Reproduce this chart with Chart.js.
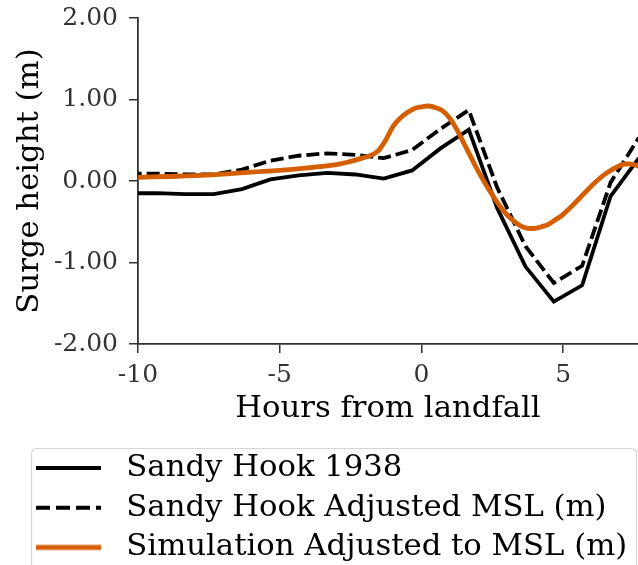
<!DOCTYPE html>
<html>
<head>
<meta charset="utf-8">
<script src="https://cdn.jsdelivr.net/npm/chart.js@4/dist/chart.umd.min.js"></script>
<style>
  html, body { margin: 0; padding: 0; background: #fff; }
  #wrap { width: 638px; height: 565px; }
</style>
</head>
<body>
<div id="wrap"><canvas id="c" width="638" height="565"></canvas></div>
<script>
// Tide gauge readings (hours relative to landfall)
const gaugeHours = [-10.33, -9.33, -8.33, -7.33, -6.33, -5.33, -4.33, -3.33, -2.33, -1.33,
                    -0.33, 0.67, 1.67, 2.67, 3.67, 4.67, 5.67, 6.67, 7.67];
const sandyHook1938 = [-0.15, -0.15, -0.16, -0.16, -0.10, 0.02, 0.07, 0.10, 0.08, 0.03,
                       0.13, 0.40, 0.63, -0.33, -1.05, -1.48, -1.28, -0.19, 0.28];
const sandyHookAdjusted = [0.09, 0.09, 0.08, 0.08, 0.14, 0.25, 0.31, 0.34, 0.32, 0.28,
                           0.38, 0.64, 0.87, -0.08, -0.80, -1.25, -1.04, -0.02, 0.53];

// Model output
const simHours = [-10.5, -10, -9, -8, -7, -6, -5, -4, -3.5, -3, -2.5, -2, -1.75, -1.5, -1.25, -1,
                  -0.75, -0.5, -0.25, 0, 0.25, 0.5, 0.75, 1, 1.25, 1.5, 1.75, 2, 2.25, 2.5,
                  2.75, 3, 3.25, 3.5, 3.75, 4, 4.25, 4.5, 4.75, 5, 5.5, 6, 6.5, 7, 7.25, 7.5, 7.75];
const simAdjusted = [0.04, 0.045, 0.055, 0.065, 0.085, 0.11, 0.13, 0.16, 0.18, 0.20, 0.24, 0.29,
                     0.32, 0.38, 0.51, 0.67, 0.77, 0.84, 0.89, 0.91, 0.92, 0.90, 0.86, 0.77, 0.63,
                     0.46, 0.29, 0.12, -0.03, -0.17, -0.30, -0.41, -0.49, -0.55, -0.58, -0.58,
                     -0.56, -0.53, -0.47, -0.41, -0.24, -0.06, 0.09, 0.19, 0.21, 0.20, 0.17];

const seriesNames = ['Sandy Hook 1938', 'Sandy Hook Adjusted MSL (m)', 'Simulation Adjusted to MSL (m)'];
const xTickValues = [-10, -5, 0, 5];
const yTickValues = [-2, -1, 0, 1, 2];

const SERIF = "'DejaVu Serif', serif";
const ORANGE = '#d55e00';

function pts(xs, ys) { return xs.map((x, i) => ({ x: x, y: ys[i] })); }

// Small line swatches used as legend handles
function swatch(color, width, dash) {
  const c = document.createElement('canvas');
  c.width = 75; c.height = 10;
  const g = c.getContext('2d');
  g.strokeStyle = color; g.lineWidth = width; g.lineCap = 'butt';
  g.setLineDash(dash);
  g.beginPath(); g.moveTo(0, 5); g.lineTo(65, 5); g.stroke();
  return c;
}
const handles = [swatch('#000', 3.8, []), swatch('#000', 3.8, [14, 6]), swatch(ORANGE, 4.8, [])];

// Rounded frame behind the legend entries
const legendFrame = {
  id: 'legendFrame',
  afterDraw(chart) {
    const ctx = chart.ctx;
    ctx.save();
    ctx.strokeStyle = '#d6d6d6';
    ctx.lineWidth = 1.2;
    ctx.beginPath();
    ctx.roundRect(31.5, 448.5, 605, 130, 5);
    ctx.stroke();
    ctx.restore();
  }
};

new Chart(document.getElementById('c'), {
  type: 'line',
  data: {
    datasets: [
      { label: seriesNames[0], data: pts(gaugeHours, sandyHook1938), borderColor: '#000',
        borderWidth: 3.8, pointRadius: 0, tension: 0, order: 2, clip: 0 },
      { label: seriesNames[1], data: pts(gaugeHours, sandyHookAdjusted), borderColor: '#000',
        borderWidth: 3.8, borderDash: [13, 5], pointRadius: 0, tension: 0, order: 1, clip: 0 },
      { label: seriesNames[2], data: pts(simHours, simAdjusted), borderColor: ORANGE,
        borderWidth: 4.8, pointRadius: 0, tension: 0.4, order: 0, clip: 0 }
    ]
  },
  options: {
    responsive: false,
    animation: false,
    devicePixelRatio: 1,
    layout: { padding: { left: 27, top: 18, right: 0, bottom: -7.75 } },
    plugins: {
      tooltip: { enabled: false },
      legend: {
        position: 'bottom',
        align: 'start',
        labels: {
          usePointStyle: true,
          pointStyleWidth: 75,
          padding: 9,
          color: '#333',
          font: { family: SERIF, size: 30.7 },
          generateLabels: (chart) => chart.data.datasets.map((ds, i) => ({
            text: ds.label, pointStyle: handles[i], fillStyle: ds.borderColor,
            strokeStyle: ds.borderColor, lineWidth: 0, hidden: false, datasetIndex: i
          }))
        }
      }
    },
    scales: {
      x: {
        type: 'linear', min: -10, max: 7.64,
        afterBuildTicks: (s) => { s.ticks = xTickValues.map(v => ({ value: v })); },
        afterFit: (s) => { s.height = 99.65; },
        ticks: { color: '#333', padding: 7, font: { family: SERIF, size: 25 },
                 callback: (v) => String(v) },
        grid: { drawOnChartArea: false, drawTicks: true, tickLength: 9, color: '#333', lineWidth: 1.5 },
        border: { display: true, color: '#333', width: 1.8 },
        title: { display: true, text: 'Hours from landfall', color: '#000',
                 font: { family: SERIF, size: 30.7 }, padding: { top: 0, bottom: 16 } }
      },
      y: {
        type: 'linear', min: -2, max: 2,
        afterBuildTicks: (s) => { s.ticks = yTickValues.map(v => ({ value: v })); },
        afterFit: (s) => { s.width = 111; },
        ticks: { color: '#333', padding: 11, font: { family: SERIF, size: 25, lineHeight: 0.4 },
                 callback: (v) => Number(v).toFixed(2) },
        grid: { drawOnChartArea: false, drawTicks: true, tickLength: 9, color: '#333', lineWidth: 1.5 },
        border: { display: true, color: '#333', width: 1.8 },
        title: { display: true, text: 'Surge height (m)', color: '#000',
                 font: { family: SERIF, size: 30.7, lineHeight: 0.2 }, padding: 0 }
      }
    }
  },
  plugins: [legendFrame]
});
</script>
</body>
</html>
